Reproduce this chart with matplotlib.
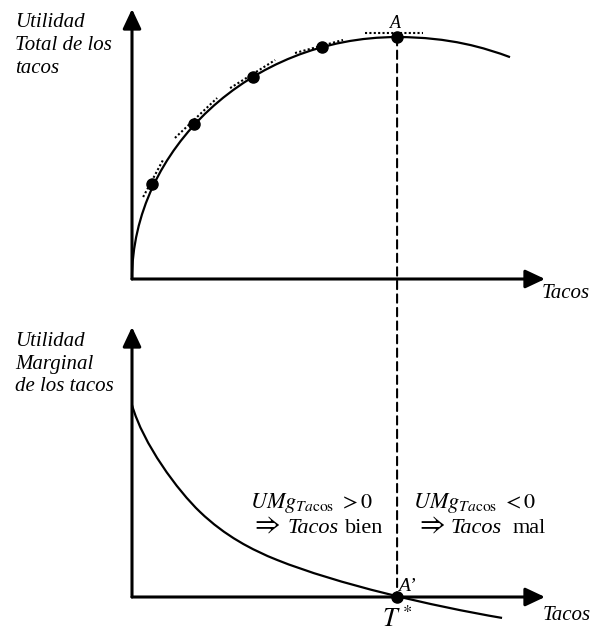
import matplotlib.pyplot as plt
from matplotlib.path import Path
from matplotlib.patches import PathPatch, ConnectionPatch

plt.rcParams['font.family'] = ['Liberation Serif', 'DejaVu Serif']
plt.rcParams['mathtext.fontset'] = 'stix'

# Unidades: tacos (T* = 10), utilidad total (max = 100), utilidad marginal (UMg(0) = 10)
t_star = 10
x_max = 15.58
ut_max = 111.6
umg_max = 14.06

# Utilidad total: vertices de la curva (bezier cubica)
ut_curve_x = [0, 0, 4.45, 10, 12, 13.32, 14.26]
ut_curve_y = [0, 53.3, 100, 100, 100, 95.5, 91.7]

# Puntos sobre la curva de utilidad total
dots_x = [0.75, 2.34, 4.57, 7.17, 10]
dots_y = [39.3, 64.0, 83.5, 95.9, 100]

# Tangentes punteadas (inicio, fin)
tan_x0 = [0.42, 1.62, 3.70, 6.15, 8.79]
tan_y0 = [33.9, 58.3, 78.9, 93.4, 101.7]
tan_x1 = [1.17, 3.21, 5.40, 7.96, 10.98]
tan_y1 = [49.2, 74.8, 90.5, 98.8, 101.7]

# Utilidad marginal: vertices de la curva (bezier cubica)
umg_curve_x = [0, 0.415, 1.736, 2.566, 3.509, 4.528, 5.472, 7.736, 11.32, 13.96]
umg_curve_y = [10.0, 7.97, 5.52, 4.43, 3.18, 2.45, 1.93, 0.68, -0.47, -1.09]

W, H = 593, 631
fig = plt.figure(figsize=(W / 100, H / 100), dpi=100)
ax_top = fig.add_axes([132 / W, 1 - 279 / H, 413 / W, 270 / H])
ax_bot = fig.add_axes([132 / W, 1 - 597 / H, 413 / W, 270 / H])
ax_top.set_xlim(0, x_max)
ax_top.set_ylim(0, ut_max)
ax_bot.set_xlim(0, x_max)
ax_bot.set_ylim(0, umg_max)
for ax in (ax_top, ax_bot):
    ax.axis('off')


def draw_axes_arrows(ax, xm, ym):
    for end in [(xm, 0), (0, ym)]:
        ax.annotate('', xy=end, xytext=(0, 0),
                    arrowprops=dict(arrowstyle='-|>,head_length=0.85,head_width=0.4',
                                    mutation_scale=14, lw=2.2, color='black',
                                    shrinkA=0, shrinkB=0),
                    annotation_clip=False)


def bezier(ax, xs, ys):
    verts = list(zip(xs, ys))
    codes = [Path.MOVETO] + [Path.CURVE4] * (len(verts) - 1)
    patch = PathPatch(Path(verts, codes), fill=False, lw=1.6, color='black', clip_on=False)
    ax.add_patch(patch)


draw_axes_arrows(ax_top, x_max, ut_max)
draw_axes_arrows(ax_bot, x_max, umg_max)

bezier(ax_top, ut_curve_x, ut_curve_y)
bezier(ax_bot, umg_curve_x, umg_curve_y)

for i in range(len(tan_x0)):
    ax_top.plot([tan_x0[i], tan_x1[i]], [tan_y0[i], tan_y1[i]], color='black',
                lw=1.5, linestyle=(0, (1, 1.1)), clip_on=False)

ax_top.plot(dots_x, dots_y, 'o', ms=8, color='black', clip_on=False)
ax_bot.plot([t_star], [0], 'o', ms=8, color='black', clip_on=False, zorder=5)

# linea discontinua de A a A'
con = ConnectionPatch(xyA=(t_star, 100), coordsA=ax_top.transData,
                      xyB=(t_star, 0), coordsB=ax_bot.transData,
                      linestyle=(0, (4, 2.5)), lw=1.5, color='black')
fig.add_artist(con)

# textos
fig.text(15 / W, 1 - 13 / H, 'Utilidad\nTotal de los\ntacos', style='italic',
         fontsize=15, va='top', ha='left', linespacing=1.3)
fig.text(15 / W, 1 - 332 / H, 'Utilidad\nMarginal\nde los tacos', style='italic',
         fontsize=15, va='top', ha='left', linespacing=1.25)

ax_top.text(15.45, -7.85, 'Tacos', style='italic', fontsize=15, ha='left', va='baseline')
ax_bot.text(15.5, -1.2, 'Tacos', style='italic', fontsize=15, ha='left', va='baseline')

ax_top.annotate('A', xy=(t_star, 100), xytext=(-1, 6.5), textcoords='offset points',
                style='italic', fontsize=13, ha='center', va='baseline')
ax_bot.annotate('A’', xy=(t_star, 0), xytext=(1, 4), textcoords='offset points',
                style='italic', fontsize=14, ha='left', va='baseline')
ax_bot.annotate(r'$T^*$', xy=(t_star, 0), xytext=(0, -21.5), textcoords='offset points',
                fontsize=19, ha='center', va='baseline')

ax_bot.text(4.45, 4.64, r'$UMg_{Ta\mathrm{cos}}\ >0$', fontsize=16, ha='left', va='baseline')
ax_bot.text(10.6, 4.64, r'$UMg_{Ta\mathrm{cos}}\ <0$', fontsize=16, ha='left', va='baseline')
for x_arrow, x_word, x_tail, tail in [(4.45, 5.85, 8.04, 'bien'), (10.68, 12.0, 14.34, 'mal')]:
    ax_bot.text(x_arrow, 3.40, r'$\Rightarrow$', fontsize=20, ha='left', va='baseline')
    ax_bot.text(x_word, 3.33, 'Tacos', style='italic', fontsize=16, ha='left', va='baseline')
    ax_bot.text(x_tail, 3.33, tail, fontsize=16, ha='left', va='baseline')

fig.savefig('out.png', dpi=100)
